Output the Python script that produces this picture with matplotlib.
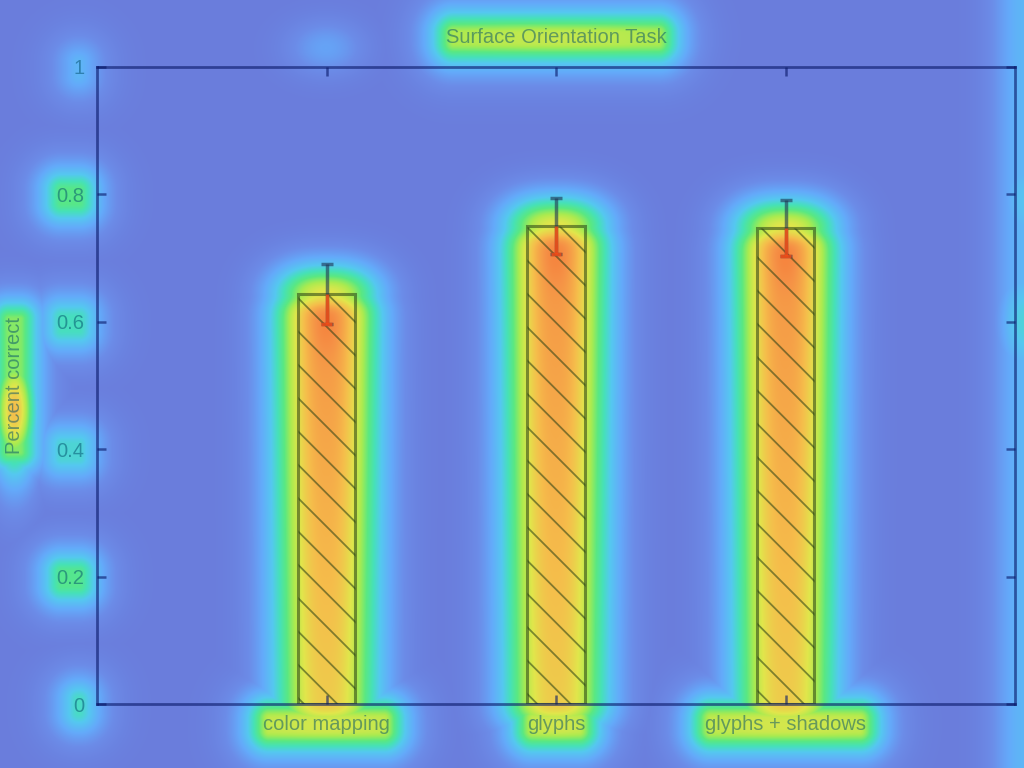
import numpy as np
import matplotlib
matplotlib.use('Agg')
import matplotlib.pyplot as plt

# ---- data ----
categories = ['color mapping', 'glyphs', 'glyphs + shadows']
values = [0.643, 0.750, 0.747]
errors = [0.047, 0.044, 0.044]
yticks = [0, 0.2, 0.4, 0.6, 0.8, 1]
ytick_labels = ['0', '0.2', '0.4', '0.6', '0.8', '1']
title = 'Surface Orientation Task'
ylabel = 'Percent correct'

W, H = 1024, 768
plt.rcParams['font.family'] = ['Liberation Sans', 'DejaVu Sans']
plt.rcParams['hatch.linewidth'] = 1.3

fig = plt.figure(figsize=(W / 100, H / 100), dpi=100)
bg = fig.add_axes([0, 0, 1, 1], zorder=0)
bg.set_axis_off()
ax = fig.add_axes([97 / W, 64 / H, 918 / W, 637 / H], zorder=1)
ax.set_facecolor('none')

line_c = (0.04, 0.10, 0.42, 0.62)
text_c = (0.0, 0.30, 0.42, 0.5)
hatch_c = (0.14, 0.24, 0.08, 0.55)
err_c = (0.12, 0.20, 0.32, 0.6)
err_in_c = (0.98, 0.30, 0.08, 0.8)

x = np.arange(1, len(categories) + 1)
vals = np.array(values)
errs = np.array(errors)

ax.bar(x, vals, width=0.25, color='none', edgecolor=hatch_c, hatch='\\',
       linewidth=2.2, zorder=2)
ax.errorbar(x, vals, yerr=errs, fmt='none', ecolor=err_c, elinewidth=2.5,
            capsize=4, capthick=2.5, zorder=3)
lo = vals - errs
ax.vlines(x, lo, vals, colors=[err_in_c], linewidth=2.5, zorder=4)
ax.hlines(lo, x - 0.022, x + 0.022, colors=[err_in_c], linewidth=2.5, zorder=4)

ax.set_xlim(0, 4)
ax.set_ylim(0, 1)
ax.set_xticks(x)
ax.set_xticklabels(categories)
ax.set_yticks(yticks)
ax.set_yticklabels(ytick_labels)
ax.tick_params(axis='x', which='both', direction='in', top=True, bottom=True,
               length=6.5, width=1.8, color=line_c, labelcolor=text_c,
               labelsize=14.5, pad=8)
ax.tick_params(axis='y', which='both', direction='in', left=True, right=True,
               length=6.5, width=1.8, color=line_c, labelcolor=text_c,
               labelsize=14.5, pad=9)
for sp in ax.spines.values():
    sp.set_color(line_c)
    sp.set_linewidth(2.0)
ax.set_title(title, fontsize=14.5, color=text_c, pad=17)
ax.set_ylabel(ylabel, fontsize=14.5, color=text_c)
ax.yaxis.set_label_coords((24 - 97) / 918, 0.5)

# ---- saliency-style heat overlay derived from element positions ----
fig.canvas.draw()
rend = fig.canvas.get_renderer()
X, Y = np.meshgrid(np.arange(W) + 0.5, np.arange(H) + 0.5)


def rect_blob(bb, amp, s, p=1.5, shrink=0.0):
    x0, x1 = bb.x0 + shrink, bb.x1 - shrink
    y0, y1 = bb.y0 + shrink * 0.5, bb.y1 - shrink * 0.5
    dx = np.maximum(np.maximum(x0 - X, 0), X - x1)
    dy = np.maximum(np.maximum(y0 - Y, 0), Y - y1)
    d = np.sqrt(dx ** 2 + dy ** 2)
    return amp * np.exp(-(d / s) ** p)


def gauss(cx, cy, sx, sy, amp):
    return amp * np.exp(-0.5 * (((X - cx) / sx) ** 2 + ((Y - cy) / sy) ** 2))


S = np.zeros((H, W))
# bars
for xi, vi in zip(x, vals):
    cx, yt = ax.transData.transform((xi, vi))
    _, yb = ax.transData.transform((xi, 0))
    fx = np.exp(-(np.abs(X - cx) / 60.0) ** 2.5)
    above = 0.82 * np.exp(-(np.maximum(Y - yt, 0) / 36.0) ** 2)
    depth = np.maximum(yt - Y, 0)
    inside = (1 - 0.12 * np.clip(depth / (yt - yb), 0, 1)) * \
        (1 - 0.18 * np.exp(-(depth / 12.0) ** 2))
    below = np.where(Y < yb, np.exp(-((yb - Y) / 36.0) ** 2), 1.0)
    fy = np.where(Y > yt, above, inside) * below
    f = 0.9 * fx * fy + gauss(cx, yt - 30, 10, 20, 0.03)
    S = np.maximum(S, f)

# x tick labels
for lab in ax.get_xticklabels():
    bb = lab.get_window_extent(rend)
    S = np.maximum(S, rect_blob(bb, 0.68, 30, 1.5, shrink=6)
                   + gauss((bb.x0 + bb.x1) / 2, (bb.y0 + bb.y1) / 2, bb.width / 3, 10, 0.04))
# title
tb = ax.title.get_window_extent(rend)
S = np.maximum(S, rect_blob(tb, 0.65, 30, 1.5, shrink=8)
               + gauss((tb.x0 + tb.x1) / 2, (tb.y0 + tb.y1) / 2, 70, 10, 0.05))
# y tick labels
yamps = [0.46, 0.55, 0.43, 0.47, 0.56, 0.3]
for lab, a in zip(ax.get_yticklabels(), yamps):
    S = np.maximum(S, rect_blob(lab.get_window_extent(rend), a, 28, 1.5, shrink=5))
# y label
ylb = ax.yaxis.label.get_window_extent(rend)
S = np.maximum(S, rect_blob(ylb, 0.62, 26, 1.5, shrink=4))
S = np.maximum(S, gauss(ylb.x0 + ylb.width / 2, H - 410, 18, 52, 0.82))
# top tick and right edge
S = np.maximum(S, gauss(326, H - 48, 28, 20, 0.22))
S = np.maximum(S, 0.3 * np.exp(-((X - 1024) / 34.0) ** 2))
S = np.maximum(S, gauss(1024, H - 322, 20, 48, 0.42))
S = np.maximum(S, gauss(1024, H - 200, 18, 42, 0.36))
S = np.clip(S, 0, 1)

stops = [0.00, 0.12, 0.25, 0.38, 0.48, 0.57, 0.66, 0.74, 0.82, 0.90, 1.00]
cols = np.array([
    (106, 125, 220), (108, 140, 232), (100, 170, 250), (85, 200, 240),
    (70, 225, 185), (90, 232, 130), (170, 235, 80), (225, 230, 75),
    (245, 190, 75), (245, 145, 70), (250, 95, 40)]) / 255.0
rgb = np.dstack([np.interp(S, stops, cols[:, k]) for k in range(3)])
bg.imshow(rgb, origin='lower', extent=(0, W, 0, H), aspect='auto',
          interpolation='bilinear')
bg.set_xlim(0, W)
bg.set_ylim(0, H)

fig.savefig('out.png', dpi=100)
